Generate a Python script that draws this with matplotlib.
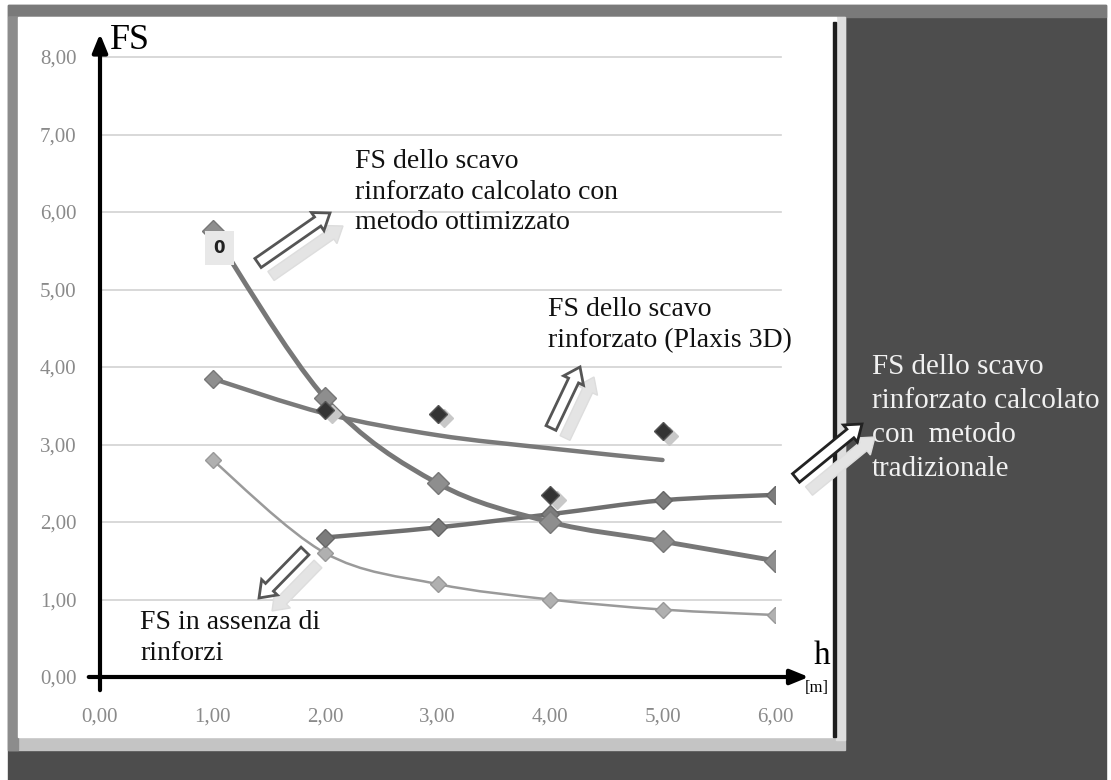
import matplotlib
matplotlib.use("Agg")
import matplotlib.pyplot as plt
import matplotlib.patches as mpatches
from matplotlib.path import Path
from matplotlib.transforms import IdentityTransform
import numpy as np

# data
h = [1.0, 2.0, 3.0, 4.0, 5.0, 6.0]
fs_ottimizzato = [5.75, 3.60, 2.50, 2.00, 1.75, 1.50]
h_tradizionale = [2.0, 3.0, 4.0, 5.0, 6.0]
fs_tradizionale = [1.80, 1.93, 2.10, 2.28, 2.35]
fs_assenza = [2.80, 1.60, 1.20, 1.00, 0.87, 0.80]
h_plaxis = [2.0, 3.0, 4.0, 5.0]
fs_plaxis = [3.45, 3.40, 2.35, 3.17]
h_trend = [1.0, 2.0, 3.0, 4.0, 5.0]
fs_trend = [3.85, 3.40, 3.12, 2.95, 2.80]

y_ticks = [0, 1, 2, 3, 4, 5, 6, 7, 8]
x_ticks = [0, 1, 2, 3, 4, 5, 6]

W, H = 1111, 780
SERIF = ["Liberation Serif", "DejaVu Serif"]


def fx(px):
    return px / W


def fy(py):
    return 1 - py / H


def smooth_path(xs, ys):
    # Catmull-Rom through the points, drawn as cubic Bezier segments
    p = np.column_stack([xs, ys]).astype(float)
    p = np.vstack([p[0], p, p[-1]])
    verts = [p[1]]
    codes = [Path.MOVETO]
    for i in range(1, len(p) - 2):
        c1 = p[i] + (p[i + 1] - p[i - 1]) / 6
        c2 = p[i + 1] - (p[i + 2] - p[i]) / 6
        verts += [c1, c2, p[i + 1]]
        codes += [Path.CURVE4] * 3
    return Path(verts, codes)


def smooth_line(ax, xs, ys, color, lw, z=3):
    patch = mpatches.PathPatch(smooth_path(xs, ys), facecolor="none",
                               edgecolor=color, lw=lw, zorder=z,
                               capstyle="round", joinstyle="round")
    ax.add_patch(patch)


def block_arrow(fig, tail, head, edge="#555555", shadow=(13, 13)):
    # tail/head in picture pixels, y downwards
    x0, y0 = tail
    x1, y1 = head
    sx, sy = shadow
    kw = dict(width=11, head_width=22, head_length=15,
              length_includes_head=True, transform=IdentityTransform())
    sh = mpatches.FancyArrow(x0 + sx, H - (y0 + sy), x1 - x0, -(y1 - y0),
                             facecolor="#e4e4e4", edgecolor="#dddddd", lw=1,
                             zorder=5, **kw)
    ar = mpatches.FancyArrow(x0, H - y0, x1 - x0, -(y1 - y0),
                             facecolor="white", edgecolor=edge, lw=2,
                             zorder=6, **kw)
    fig.patches.extend([sh, ar])


fig = plt.figure(figsize=(W / 100, H / 100), dpi=100, facecolor="white")

# background frame
def rect(x0, y0, x1, y1, color):
    fig.patches.append(mpatches.Rectangle((fx(x0), fy(y1)), fx(x1) - fx(x0),
                                          fy(y0) - fy(y1), color=color,
                                          transform=fig.transFigure, zorder=-5))

rect(8, 5, 1106, 780, "#4d4d4d")
rect(8, 5, 1106, 17, "#7a7a7a")
rect(8, 17, 845, 750, "#c4c4c4")
rect(836, 17, 845, 740, "#dedede")
rect(8, 17, 18, 750, "#8c8c8c")
rect(18, 17, 836, 737, "white")
rect(833, 22, 836, 737, "#1e1e1e")

ax = fig.add_axes([fx(100), fy(677), fx(775) - fx(100), fy(57) - fy(677)])
ax.set_facecolor("none")
ax.set_xlim(0, 6)
ax.set_ylim(0, 8)
for s in ax.spines.values():
    s.set_visible(False)
ax.set_xticks(x_ticks)
ax.set_yticks(y_ticks)
ax.set_xticklabels([f"{v:.2f}".replace(".", ",") for v in x_ticks])
ax.set_yticklabels([f"{v:.2f}".replace(".", ",") for v in y_ticks])
ax.tick_params(length=0, labelcolor="#8a8a8a", labelsize=15)
ax.tick_params(axis="y", pad=17)
ax.tick_params(axis="x", pad=22)
for lab in ax.get_xticklabels() + ax.get_yticklabels():
    lab.set_family(SERIF)

# gridlines
for v in y_ticks[1:]:
    ax.plot([0, 6.05], [v, v], color="#d2d2d2", lw=1.2, zorder=1, clip_on=False)

# axes with arrows
ax.annotate("", xy=(0, 8.3), xytext=(0, -0.17),
            arrowprops=dict(arrowstyle="-|>,head_length=1.1,head_width=0.45",
                            color="black", lw=3, shrinkA=0, shrinkB=0),
            annotation_clip=False, zorder=6)
ax.annotate("", xy=(6.3, 0), xytext=(-0.1, 0),
            arrowprops=dict(arrowstyle="-|>,head_length=1.1,head_width=0.45",
                            color="black", lw=3, shrinkA=0, shrinkB=0),
            annotation_clip=False, zorder=6)

# no reinforcement
smooth_line(ax, h, fs_assenza, "#9a9a9a", 1.8)
ax.plot(h, fs_assenza, ls="none", marker="D", ms=8, color="#b0b0b0",
        mec="#999999", zorder=4)

# Plaxis trend and points
smooth_line(ax, h_trend, fs_trend, "#7a7a7a", 3.2)
ax.plot(h_trend[:1], fs_trend[:1], ls="none", marker="D", ms=9,
        color="#8f8f8f", mec="#777777", zorder=4)
ax.plot(np.array(h_plaxis) + 0.06, np.array(fs_plaxis) - 0.06, ls="none",
        marker="D", ms=9, color="#c8c8c8", mec="#c8c8c8", zorder=4)
ax.plot(h_plaxis, fs_plaxis, ls="none", marker="D", ms=9, color="#333333",
        mec="#555555", zorder=5)

# traditional method
smooth_line(ax, h_tradizionale, fs_tradizionale, "#6f6f6f", 3.2)
ax.plot(h_tradizionale, fs_tradizionale, ls="none", marker="D", ms=9,
        color="#7c7c7c", mec="#666666", zorder=4)

# optimized method
smooth_line(ax, h, fs_ottimizzato, "#777777", 3.5)
ax.plot(h, fs_ottimizzato, ls="none", marker="D", ms=11, color="#8e8e8e",
        mec="#777777", zorder=4)
ax.annotate("0", xy=(h[0], fs_ottimizzato[0]), xytext=(5, -12),
            textcoords="offset points", ha="center", va="center",
            fontsize=12, fontweight="bold", color="#222222",
            bbox=dict(boxstyle="square,pad=0.5", fc="#e8e8e8", ec="none"),
            zorder=6)

# axis names
fig.text(fx(110), fy(24), "FS", fontsize=26, family=SERIF, va="top", color="black")
fig.text(fx(814), fy(640), "h", fontsize=24, family=SERIF, va="top", color="black")
fig.text(fx(805), fy(680), "[m]", fontsize=12, family=SERIF, va="top", color="black")

# annotations
fig.text(fx(355), fy(149), "FS dello scavo\nrinforzato calcolato con\nmetodo ottimizzato",
         fontsize=20, family=SERIF, va="top", linespacing=1.3, color="#111111")
fig.text(fx(548), fy(297), "FS dello scavo\nrinforzato (Plaxis 3D)",
         fontsize=20, family=SERIF, va="top", linespacing=1.3, color="#111111")
fig.text(fx(140), fy(610), "FS in assenza di\nrinforzi",
         fontsize=20, family=SERIF, va="top", linespacing=1.3, color="#111111")
fig.text(fx(872), fy(354), "FS dello scavo\nrinforzato calcolato\ncon  metodo\ntradizionale",
         fontsize=21, family=SERIF, va="top", linespacing=1.4, color="#f0f0f0")

block_arrow(fig, (258, 263), (330, 213))
block_arrow(fig, (551, 428), (580, 367), shadow=(14, 10))
block_arrow(fig, (796, 478), (862, 424), edge="#222222")
block_arrow(fig, (305, 551), (259, 598), shadow=(13, 13))

fig.savefig("out.png", dpi=100, facecolor=fig.get_facecolor())
